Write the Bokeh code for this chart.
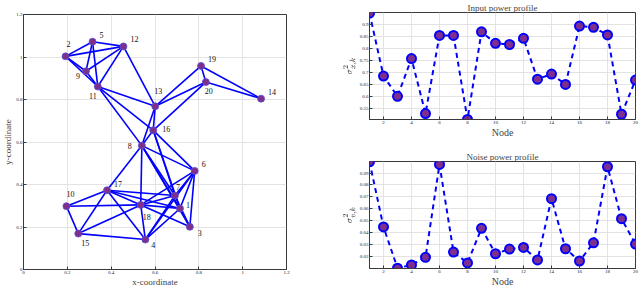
from bokeh.plotting import figure
from bokeh.layouts import row, column
from bokeh.models import ColumnDataSource, FixedTicker
from bokeh.core.properties import value
from bokeh.embed import file_html
from bokeh.resources import INLINE

# ---------------- data ----------------
node_ids = [str(i) for i in range(1, 21)]
node_x = [0.714, 0.192, 0.759, 0.556, 0.315, 0.781, 0.691, 0.540, 0.285, 0.196,
          0.339, 0.456, 0.601, 1.084, 0.250, 0.592, 0.381, 0.535, 0.810, 0.832]
node_y = [0.287, 1.003, 0.201, 0.141, 1.072, 0.464, 0.348, 0.583, 0.933, 0.298,
          0.861, 1.050, 0.768, 0.804, 0.169, 0.655, 0.373, 0.304, 0.958, 0.882]
edges = [(2, 5), (2, 12), (2, 9), (2, 11), (5, 12), (5, 9), (5, 11), (9, 12),
         (9, 11), (11, 12), (12, 13), (11, 13), (11, 16), (11, 8),
         (13, 19), (13, 20), (13, 16), (13, 8), (16, 20), (19, 20), (19, 14), (20, 14),
         (16, 8), (16, 6), (16, 7), (16, 1),
         (8, 6), (8, 7), (8, 1), (8, 3), (8, 17), (8, 18),
         (6, 7), (6, 1), (6, 3), (6, 18), (6, 4),
         (7, 17), (7, 18), (7, 4), (7, 3),
         (17, 10), (17, 15), (17, 18), (17, 4), (17, 1),
         (18, 10), (18, 15), (18, 1), (18, 3), (18, 4),
         (10, 15), (15, 4), (4, 1), (1, 3)]

nodes_k = list(range(1, 21))
input_power = [0.948, 0.685, 0.600, 0.758, 0.528, 0.855, 0.855, 0.503, 0.870, 0.822,
               0.817, 0.843, 0.672, 0.693, 0.650, 0.894, 0.889, 0.857, 0.525, 0.668]
noise_power = [0.0995, 0.0447, 0.0101, 0.0128, 0.0192, 0.0972, 0.0236, 0.0145, 0.0436, 0.0222,
               0.0261, 0.0275, 0.0170, 0.0685, 0.0264, 0.0161, 0.0314, 0.0953, 0.0517, 0.0303]

coord_ticks = [0, 0.2, 0.4, 0.6, 0.8, 1.0, 1.2]
coord_tick_labels = ["0", "0.2", "0.4", "0.6", "0.8", "1", "1.2"]
node_ticks = [2, 4, 6, 8, 10, 12, 14, 16, 18, 20]
input_ticks = [0.55, 0.6, 0.65, 0.7, 0.75, 0.8, 0.85, 0.9]
input_tick_labels = ["0.55", "0.6", "0.65", "0.7", "0.75", "0.8", "0.85", "0.9"]
noise_ticks = [0.02, 0.03, 0.04, 0.05, 0.06, 0.07, 0.08, 0.09]
noise_tick_labels = ["0.02", "0.03", "0.04", "0.05", "0.06", "0.07", "0.08", "0.09"]

# label offsets (pixels) - styling only
lab_dx = [8, 3, 10, 8, 9, 9, 3, -12, -8, 4, -5, 11, 3, 11, 7, 13, 11, 6, 11, 3]
lab_dy = [-4, -12, 6, 5, -7, -7, -9, 0, 5, -12, 9, -7, -15, -7, 9, -1, -6, 12, -7, 9]

SERIF = "Liberation Serif"
AX = "#3a3a3a"
GRID = "#e3e3e3"
PURPLE = "#7E2F8E"


def style(p, xt, yt):
    p.xaxis.ticker = FixedTicker(ticks=xt[0])
    p.yaxis.ticker = FixedTicker(ticks=yt[0])
    if xt[1] is not None:
        p.xaxis.major_label_overrides = {t: l for t, l in zip(xt[0], xt[1])}
    if yt[1] is not None:
        p.yaxis.major_label_overrides = {t: l for t, l in zip(yt[0], yt[1])}
    for ax in (p.xaxis[0], p.yaxis[0]):
        ax.axis_line_color = AX
        ax.major_tick_line_color = AX
        ax.major_tick_in = 3
        ax.major_tick_out = 0
        ax.minor_tick_line_color = None
        ax.major_label_text_font = SERIF
        ax.major_label_text_font_size = "5px"
        ax.major_label_text_color = "#222222"
        ax.major_label_standoff = 1
        ax.axis_label_text_font = SERIF
        ax.axis_label_text_font_style = "normal"
        ax.axis_label_standoff = 0
    p.xgrid.grid_line_color = GRID
    p.ygrid.grid_line_color = GRID
    p.outline_line_color = AX
    p.outline_line_width = 1
    p.outline_line_alpha = 1
    p.background_fill_color = "white"
    p.border_fill_color = "white"


# ---------------- left: network ----------------
left = figure(width=300, height=289, output_backend="svg", toolbar_location=None,
              x_range=(0, 1.2), y_range=(0, 1.2),
              min_border_left=20, min_border_right=14, min_border_top=14, min_border_bottom=20)
style(left, (coord_ticks, coord_tick_labels), (coord_ticks, coord_tick_labels))
left.xaxis.axis_label = "x-coordinate"
left.yaxis.axis_label = "y-coordinate"
left.xaxis.axis_label_text_font_size = "9px"
left.yaxis.axis_label_text_font_size = "9px"

seg_x0 = [node_x[a - 1] for a, b in edges]
seg_y0 = [node_y[a - 1] for a, b in edges]
seg_x1 = [node_x[b - 1] for a, b in edges]
seg_y1 = [node_y[b - 1] for a, b in edges]
left.segment(seg_x0, seg_y0, seg_x1, seg_y1, line_color="#0000ff", line_width=1.6)

nsrc = ColumnDataSource(dict(x=node_x, y=node_y, t=node_ids, dx=lab_dx, dy=lab_dy))
left.scatter("x", "y", source=nsrc, size=7, fill_color=PURPLE, line_color="#5a4fd0", line_width=0.8)
left.text("x", "y", text="t", source=nsrc, x_offset="dx", y_offset="dy",
          text_align="center", text_baseline="middle", text_font=value(SERIF),
          text_font_size="8px", text_color="#111111")

# ---------------- right top: input power ----------------
top = figure(width=340, height=144, output_backend="svg", toolbar_location=None,
             x_range=(1, 20), y_range=(0.503, 0.951),
             min_border_left=69, min_border_right=5, min_border_top=12, min_border_bottom=25,
             title="Input power profile")
style(top, (node_ticks, None), (input_ticks, input_tick_labels))
top.title.text_font = SERIF
top.title.text_font_style = "normal"
top.title.text_font_size = "9px"
top.title.align = "center"
top.title.standoff = 0
top.xaxis.axis_label = "Node"
top.xaxis.axis_label_text_font_size = "10px"
top.yaxis.axis_label = r"$$\sigma^2_{x,k}$$"
top.yaxis.axis_label_text_font_size = "8px"
top.line(nodes_k, input_power, line_color="#0000ff", line_width=2, line_dash="5 4")
top.scatter(nodes_k, input_power, size=9, fill_color=PURPLE, line_color="#0000ff", line_width=2)

# ---------------- right bottom: noise power ----------------
bot = figure(width=340, height=145, output_backend="svg", toolbar_location=None,
             x_range=(1, 20), y_range=(0.0098, 0.0997),
             min_border_left=69, min_border_right=5, min_border_top=17, min_border_bottom=20,
             title="Noise power profile")
style(bot, (node_ticks, None), (noise_ticks, noise_tick_labels))
bot.title.text_font = SERIF
bot.title.text_font_style = "normal"
bot.title.text_font_size = "9px"
bot.title.align = "center"
bot.title.standoff = 0
bot.xaxis.axis_label = "Node"
bot.xaxis.axis_label_text_font_size = "10px"
bot.yaxis.axis_label = r"$$\sigma^2_{v,k}$$"
bot.yaxis.axis_label_text_font_size = "8px"
bot.line(nodes_k, noise_power, line_color="#0000ff", line_width=2, line_dash="5 4")
bot.scatter(nodes_k, noise_power, size=9, fill_color=PURPLE, line_color="#0000ff", line_width=2)

root = row(left, column(top, bot))

open("out.html", "w").write(file_html(root, INLINE))
